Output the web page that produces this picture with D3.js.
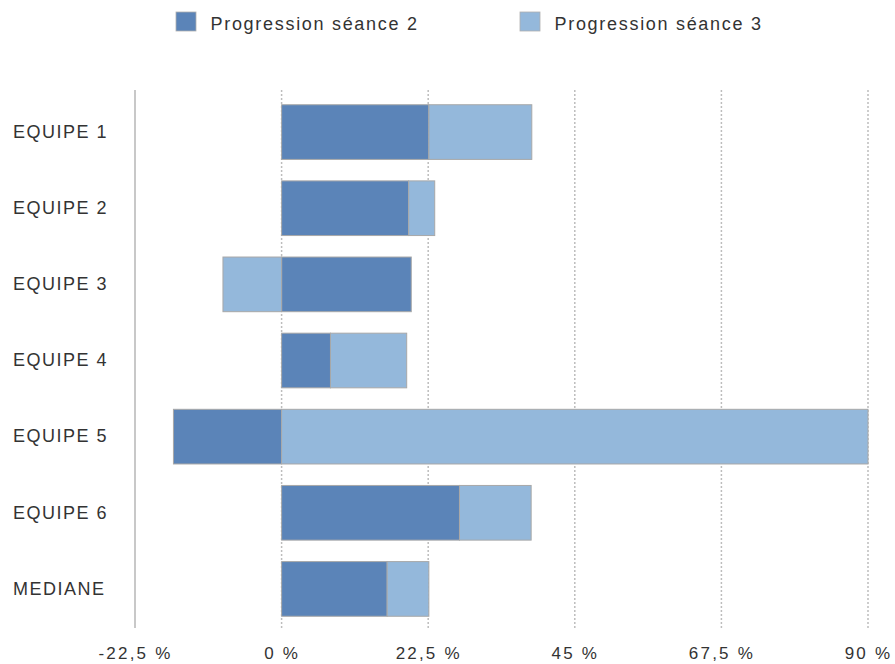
<!DOCTYPE html>
<html><head><meta charset="utf-8">
<script src="https://cdn.jsdelivr.net/npm/d3@7"></script>
<style>
body{margin:0;background:#fff;}
text{font-family:"Liberation Sans",Arial,Helvetica,sans-serif;fill:#333;}
</style></head>
<body><svg id="c" width="895" height="664"></svg>
<script>
const categories = ["EQUIPE 1","EQUIPE 2","EQUIPE 3","EQUIPE 4","EQUIPE 5","EQUIPE 6","MEDIANE"];
const seance2 = [22.6, 19.5, 19.9, 7.5, -16.6, 27.3, 16.2];
const seance3 = [15.8, 4.0, -9.0, 11.7, 90.0, 11.0, 6.4];
const seriesNames = ["Progression séance 2","Progression séance 3"];
const seriesColors = ["#5b84b8","#94b8db"];
const tickValues = [-22.5, 0, 22.5, 45, 67.5, 90];
const tickLabels = ["-22,5 %","0 %","22,5 %","45 %","67,5 %","90 %"];

const svg = d3.select("#c");
const x = d3.scaleLinear().domain([-22.5, 90]).range([135, 868]);
const y = d3.scaleBand().domain(categories).range([94, 627]).paddingInner(0.282).paddingOuter(0.141);

const rows = categories.map((c,i)=>({cat:c, s2:seance2[i], s3:seance3[i]}));
const stack = d3.stack().keys(["s2","s3"]).offset(d3.stackOffsetDiverging);
const stacked = stack(rows);

// grid
svg.append("g").selectAll("line").data(tickValues.filter(v=>v!==-22.5)).join("line")
  .attr("x1",d=>x(d)).attr("x2",d=>x(d)).attr("y1",90).attr("y2",628)
  .attr("stroke","#bdbdbd").attr("stroke-width",1.5).attr("stroke-dasharray","2,2");
// axis line
svg.append("line").attr("x1",x(-22.5)).attr("x2",x(-22.5)).attr("y1",90).attr("y2",628)
  .attr("stroke","#c8c8c8").attr("stroke-width",2);

// bars
svg.append("g").selectAll("g").data(stacked).join("g")
  .attr("fill",(d,i)=>seriesColors[i])
  .selectAll("rect").data(d=>d).join("rect")
  .attr("x",d=>x(Math.min(d[0],d[1])))
  .attr("width",d=>Math.abs(x(d[1])-x(d[0])))
  .attr("y",d=>y(d.data.cat))
  .attr("height",y.bandwidth())
  .attr("stroke","#a8a8a8").attr("stroke-width",1);

// x axis labels
const xAxis = d3.axisBottom(x).tickValues(tickValues).tickFormat((d,i)=>tickLabels[i]).tickSize(0);
const gx = svg.append("g").attr("transform","translate(0,659)").call(xAxis);
gx.select(".domain").remove();
gx.selectAll("text").attr("y",0).attr("dy",0).attr("font-size","17px").attr("letter-spacing","2.2px")
  .style("font-family","'Liberation Sans',Arial,sans-serif").attr("fill","#333");

// y labels
const yAxis = d3.axisLeft(y).tickSize(0);
const gy = svg.append("g").attr("transform","translate(13,0)").call(yAxis);
gy.select(".domain").remove();
gy.selectAll("text").attr("text-anchor","start").attr("x",0).attr("font-size","18px")
  .attr("letter-spacing","1.5px").style("font-family","'Liberation Sans',Arial,sans-serif").attr("fill","#333");

// legend
const legX = [176, 520];
const leg = svg.append("g").selectAll("g").data(seriesNames).join("g")
  .attr("transform",(d,i)=>`translate(${legX[i]},12)`);
leg.append("rect").attr("width",20).attr("height",19).attr("fill",(d,i)=>seriesColors[i])
  .attr("stroke","#b0b0b0").attr("stroke-width",0.8);
leg.append("text").attr("x",34.5).attr("y",17.5).attr("font-size","18px")
  .attr("letter-spacing","1.7px").text(d=>d);
</script></body></html>
